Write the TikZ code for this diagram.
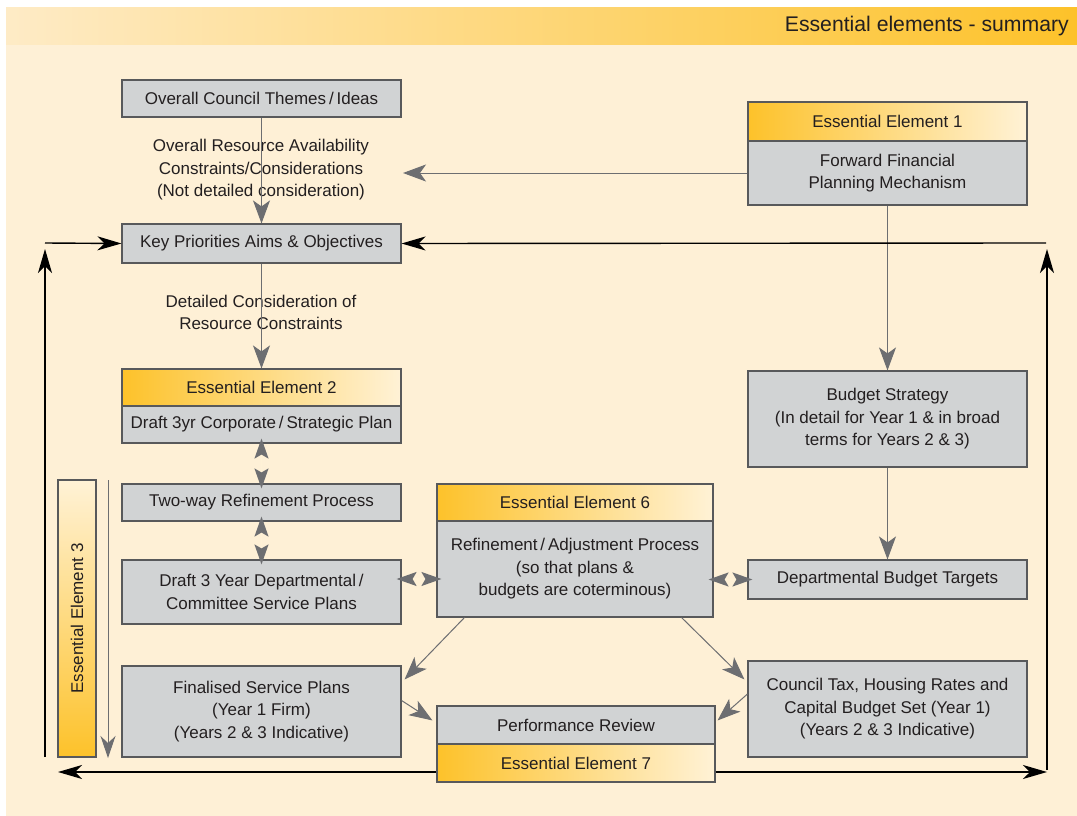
\documentclass[tikz,border=0pt]{standalone}
\usepackage{fontspec}
\setmainfont{Liberation Sans}
\usetikzlibrary{arrows.meta}
\definecolor{cream}{HTML}{FEF0D6}
\definecolor{eeorange}{HTML}{FDC22A}
\definecolor{eepale}{HTML}{FFF2D6}
\definecolor{bandpale}{HTML}{FEEBC6}
\definecolor{boxgray}{HTML}{D1D3D4}
\definecolor{boxline}{HTML}{58595B}
\definecolor{arrowgray}{HTML}{6D6E71}
\definecolor{txt}{HTML}{231F20}
\tikzset{
  box/.style={draw=boxline, line width=1.1pt, fill=boxgray, inner sep=0pt, align=center, text=txt, font=\fontsize{17}{22.5}\selectfont},
  eehead/.style={box, left color=eeorange, right color=eepale},
  garrow/.style={draw=arrowgray, line width=1pt, -{Stealth[length=23pt,width=17pt,inset=6pt]}},
  dblarrow/.style={draw=eepale, line width=1.5pt, {Stealth[length=20pt,width=14pt,inset=4pt,color=arrowgray]}-{Stealth[length=20pt,width=14pt,inset=4pt,color=arrowgray]}, shorten <=-5pt, shorten >=-5pt},
  barrow/.style={draw=black, line width=1.4pt, -{Stealth[length=24pt,width=14pt,inset=7pt]}},
  lbl/.style={align=center, text=txt, font=\fontsize{17}{22.5}\selectfont, inner sep=0pt},
}
\begin{document}
\begin{tikzpicture}[x=1pt,y=-1pt]
\useasboundingbox (0,0) rectangle (1077,816);
\fill[white] (0,0) rectangle (1077,816);
\fill[cream] (6,45) rectangle (1077,816);
\shade[left color=bandpale, right color=eeorange] (6,8) rectangle (1077,45);
\node[anchor=east, text=txt, font=\fontsize{21.2}{24}\selectfont, inner sep=0pt] (title) at (1069,26) {Essential elements - summary};

% boxes
\node[box, minimum width=279pt, minimum height=37pt] (council) at (261.5,98.5) {Overall Council Themes\,/\,Ideas};
\node[eehead, minimum width=279pt, minimum height=39pt] (ee1h) at (887.5,121.5) {Essential Element 1};
\node[box, minimum width=279pt, minimum height=64pt] (ee1b) at (887.5,173) {Forward Financial\\Planning Mechanism};
\node[box, minimum width=279pt, minimum height=39pt] (keyp) at (261.5,243.5) {Key Priorities Aims \& Objectives};
\node[eehead, minimum width=279pt, minimum height=37pt] (ee2h) at (261.5,387.5) {Essential Element 2};
\node[box, minimum width=279pt, minimum height=37pt] (ee2b) at (261.5,424.5) {Draft 3yr Corporate\,/\,Strategic Plan};
\node[box, minimum width=279pt, minimum height=37pt] (twoway) at (261.5,502.5) {Two-way Refinement Process};
\node[box, minimum width=279pt, minimum height=64pt] (draft3) at (261.5,592) {Draft 3 Year Departmental\,/\\Committee Service Plans};
\node[eehead, minimum width=276pt, minimum height=37pt] (ee6h) at (575,502.5) {Essential Element 6};
\node[box, minimum width=276pt, minimum height=96pt] (ee6b) at (575,569) {Refinement\,/\,Adjustment Process\\(so that plans \&\\budgets are coterminous)};
\node[box, minimum width=279pt, minimum height=96pt] (bstrat) at (887.5,419) {Budget Strategy\\(In detail for Year 1 \& in broad\\terms for Years 2 \& 3)};
\node[box, minimum width=279pt, minimum height=39pt] (dbt) at (887.5,579.5) {Departmental Budget Targets};
\node[box, minimum width=279pt, minimum height=91pt] (fin) at (261.5,711.5) {Finalised Service Plans\\(Year 1 Firm)\\(Years 2 \& 3 Indicative)};
\node[box, minimum width=279pt, minimum height=96pt] (ctax) at (887.5,709) {Council Tax, Housing Rates and\\Capital Budget Set (Year 1)\\(Years 2 \& 3 Indicative)};
\node[box, minimum width=278pt, minimum height=38pt] (pr) at (576,725) {Performance Review};
\node[eehead, minimum width=278pt, minimum height=38pt] (ee7h) at (576,763) {Essential Element 7};
\node[box, top color=eepale, bottom color=eeorange, minimum width=38pt, minimum height=277pt] (ee3) at (77,618.5) {};
\node[lbl, rotate=90] (ee3t) at (ee3.center) {Essential Element 3};

% labels
\node[lbl] (avail) at (261,170) {Overall Resource Availability\\Constraints/Considerations\\(Not detailed consideration)};
\node[lbl] (detail) at (261,312.5) {Detailed Consideration of\\Resource Constraints};

% coordinates
\coordinate (ctip) at (403,173);
\coordinate (lk) at (45,243);
\coordinate (rk) at (1046,243);
\coordinate (lvb) at (45,757);
\coordinate (lvt) at (45,249);
\coordinate (rvb) at (1047,770);
\coordinate (rvt) at (1047,249);
\coordinate (bl) at (58,772);
\coordinate (br) at (1047,772);
\coordinate (e3t) at (108,480);
\coordinate (e3b) at (108,758);

% gray arrows
\draw[garrow] (council.south) -- (keyp.north);
\draw[garrow] (ee1b.west) -- (ctip);
\draw[garrow] (keyp.south) -- (ee2h.north);
\draw[garrow] (ee1b.south) -- (bstrat.north);
\draw[garrow] (bstrat.south) -- (dbt.north);
\draw[garrow] ([xshift=28pt]ee6b.south west) -- ([xshift=3pt,yshift=-14pt]fin.north east);
\draw[garrow] ([xshift=-32pt]ee6b.south east) -- ([xshift=-3pt,yshift=-19pt]ctax.north west);
\draw[garrow] ([yshift=11pt]fin.east) -- ([xshift=-4pt,yshift=-15pt]pr.north west);
\draw[garrow] ([yshift=15pt]ctax.west) -- ([xshift=2pt,yshift=-15pt]pr.north east);
\draw[draw=arrowgray, line width=1pt, -{Stealth[length=22pt,width=15pt,inset=7pt]}] (e3t) -- (e3b);

% double arrows
\draw[dblarrow] (ee2b.south) -- (twoway.north);
\draw[dblarrow] (twoway.south) -- (draft3.north);
\draw[dblarrow] ([yshift=13pt]draft3.east) -- ([yshift=-10pt]ee6b.west);
\draw[dblarrow] (ee6b.east |- dbt.west) -- (dbt.west);

% black arrows
\draw[barrow] (lk) -- (keyp.west);
\draw[barrow] (rk) -- (keyp.east);
\draw[barrow] (lvb) -- (lvt);
\draw[barrow] (rvb) -- (rvt);
\draw[barrow] (ee7h.west |- bl) -- (bl);
\draw[barrow] (ee7h.east |- br) -- (br);
\end{tikzpicture}
\end{document}
